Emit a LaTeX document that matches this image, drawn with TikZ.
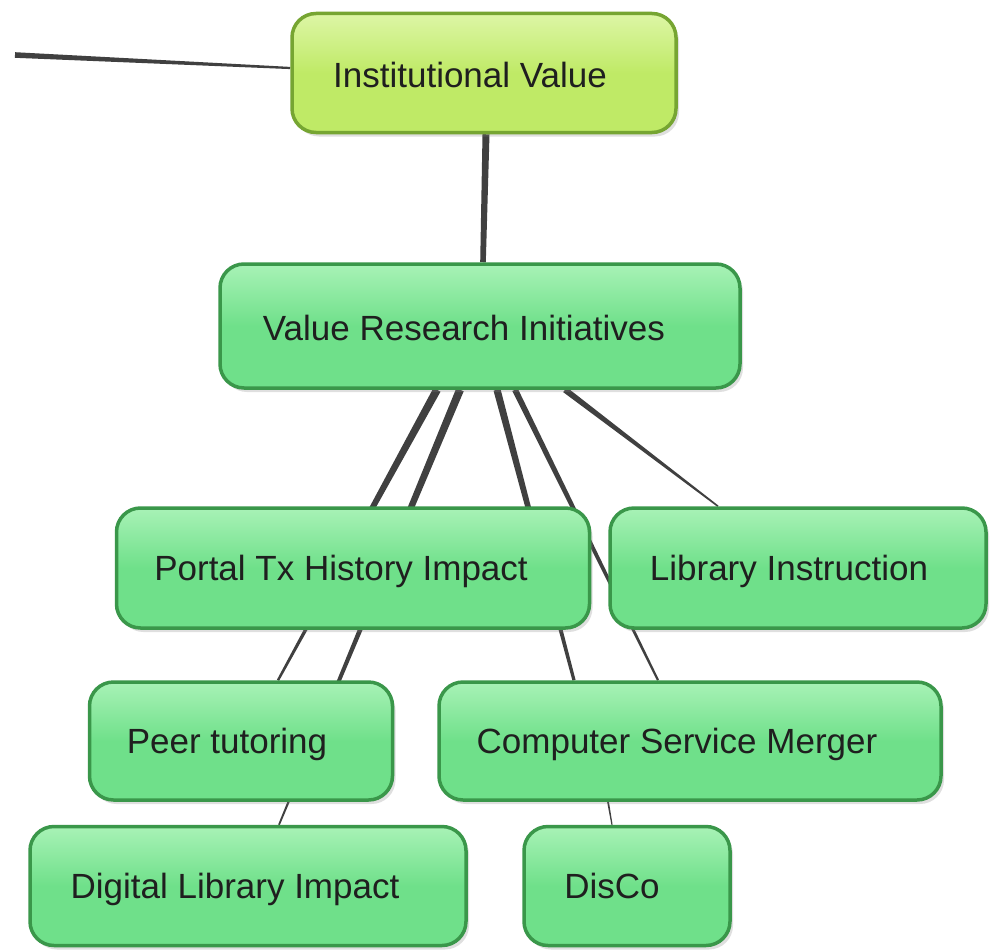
\documentclass[tikz,border=0pt]{standalone}
\usepackage{fontspec}
\setmainfont{Liberation Sans}
\usetikzlibrary{shadows,backgrounds,calc}
\pgfdeclarelayer{bottom}
\pgfsetlayers{bottom,background,main}
\definecolor{gfill}{HTML}{6FE08A}
\definecolor{gtop}{HTML}{A8F2B6}
\definecolor{gedge}{HTML}{3A974A}
\definecolor{yfill}{HTML}{BFEA66}
\definecolor{ytop}{HTML}{DDF6A6}
\definecolor{yedge}{HTML}{76A532}
\definecolor{conn}{HTML}{404040}
% tapered connector: from #1 (half width #3) to #2 (half width #4)
\newcommand\taperlink[4]{%
  \fill[link] ($(#1)!#3!90:(#2)$) -- ($(#2)!#4!-90:(#1)$)
    -- ($(#2)!#4!90:(#1)$) -- ($(#1)!#3!-90:(#2)$) -- cycle;}
\begin{document}
\begin{tikzpicture}[x=1pt,y=-1pt,
  box/.style={draw, line width=3.5pt, rounded corners=24pt, inner sep=0pt,
    drop shadow={shadow xshift=3pt, shadow yshift=-4pt, opacity=0.25}},
  gbox/.style={box, draw=gedge, top color=gtop, bottom color=gfill, middle color=gfill},
  ybox/.style={box, draw=yedge, top color=ytop, bottom color=yfill, middle color=yfill},
  txt/.style={font=\fontsize{35}{38}\selectfont, text=black!88, inner sep=0pt, anchor=base},
  link/.style={fill=conn}]
\useasboundingbox (0,0) rectangle (990,950);
\begin{pgfonlayer}{bottom}
\fill[white] (0,0) rectangle (990,950);
\end{pgfonlayer}

\node[ybox, minimum width=384pt, minimum height=119pt] (iv) at (484,73) {};
\node[txt] (ivt) at (470,88) {Institutional Value};

\node[gbox, minimum width=520pt, minimum height=124pt] (vri) at (480,326) {};
\node[txt] (vrit) at (464,340) {Value Research Initiatives};

\node[gbox, minimum width=473pt, minimum height=120pt] (pth) at (353,568) {};
\node[txt] (ptht) at (341,580) {Portal Tx History Impact};

\node[gbox, minimum width=376pt, minimum height=120pt] (li) at (798,568) {};
\node[txt] (lit) at (789,580) {Library Instruction};

\node[gbox, minimum width=303pt, minimum height=118pt] (pt) at (241,741) {};
\node[txt] (ptt) at (227,753) {Peer tutoring};

\node[gbox, minimum width=502pt, minimum height=118pt] (csm) at (690,741) {};
\node[txt] (csmt) at (677,753) {Computer Service Merger};

\node[gbox, minimum width=436pt, minimum height=119pt] (dli) at (248,886) {};
\node[txt] (dlit) at (235,898) {Digital Library Impact};

\node[gbox, minimum width=206pt, minimum height=119pt] (dc) at (627,886) {};
\node[txt] (dct) at (612,898) {DisCo};

\coordinate (lend) at (15,55);
\coordinate (ivw) at ([yshift=5pt]iv.west);
\coordinate (ivs) at ([xshift=2pt]iv.south);
\coordinate (vrin) at ([xshift=3pt]vri.north);
\coordinate (vs1) at ([xshift=-43pt]vri.south);
\coordinate (vs2) at ([xshift=-20pt]vri.south);
\coordinate (vs3) at ([xshift=17pt]vri.south);
\coordinate (vs4) at ([xshift=35pt]vri.south);
\coordinate (vs5) at ([xshift=85pt]vri.south);
\coordinate (ptn) at ([xshift=37pt]pt.north);
\coordinate (dlin) at ([xshift=31pt]dli.north);
\coordinate (csmn1) at ([xshift=-116pt]csm.north);
\coordinate (csmn2) at ([xshift=-32pt]csm.north);
\coordinate (lin) at ([xshift=-80pt]li.north);
\coordinate (csms) at ([xshift=-82pt]csm.south);
\coordinate (dcn) at ([xshift=-15pt]dc.north);

\begin{pgfonlayer}{background}
  \taperlink{lend}{ivw}{2.8pt}{1.1pt}
  \taperlink{ivs}{vrin}{3.5pt}{2.8pt}
  \taperlink{vs1}{ptn}{4pt}{1.2pt}
  \taperlink{vs2}{dlin}{4pt}{0.9pt}
  \taperlink{vs3}{csmn1}{3.6pt}{1.6pt}
  \taperlink{vs4}{csmn2}{3pt}{1.1pt}
  \taperlink{vs5}{lin}{3pt}{0.8pt}
  \taperlink{csms}{dcn}{0.9pt}{0.6pt}
\end{pgfonlayer}
\end{tikzpicture}
\end{document}
